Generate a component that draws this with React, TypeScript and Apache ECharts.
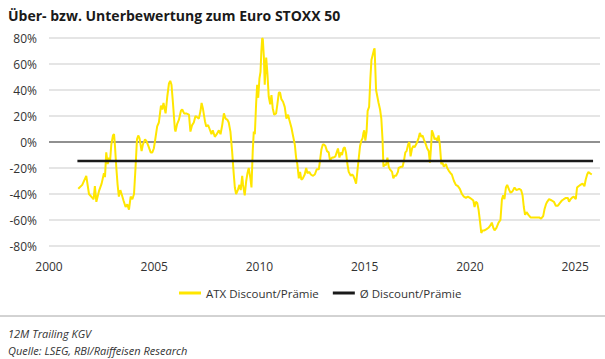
import React, { useEffect, useRef } from "react";
import * as echarts from "echarts";

const titleText = "Über- bzw. Unterbewertung zum Euro STOXX 50";
const footnote1 = "12M Trailing KGV";
const footnote2 = "Quelle: LSEG, RBI/Raiffeisen Research";
const seriesNames = ["ATX Discount/Prämie", "Ø Discount/Prämie"];

const years = [
  2001.39, 2001.58, 2001.77, 2001.9, 2002.06, 2002.12, 2002.18, 2002.25, 2002.37, 2002.5,
  2002.61, 2002.66, 2002.72, 2002.79, 2002.85, 2002.9, 2002.96, 2003.04, 2003.09, 2003.13,
  2003.2, 2003.26, 2003.32, 2003.39, 2003.45, 2003.54, 2003.64, 2003.72, 2003.8, 2003.88,
  2003.96, 2004.04, 2004.11, 2004.18, 2004.24, 2004.3, 2004.4, 2004.46, 2004.56, 2004.62,
  2004.72, 2004.83, 2004.91, 2004.98, 2005.03, 2005.14, 2005.22, 2005.32, 2005.38, 2005.44,
  2005.54, 2005.62, 2005.7, 2005.76, 2005.82, 2005.89, 2005.98, 2006.01, 2006.09, 2006.17,
  2006.27, 2006.33, 2006.42, 2006.52, 2006.65, 2006.72, 2006.8, 2006.88, 2006.96, 2007.04,
  2007.12, 2007.2, 2007.25, 2007.31, 2007.41, 2007.47, 2007.56, 2007.63, 2007.72, 2007.78,
  2007.88, 2007.97, 2008.07, 2008.15, 2008.23, 2008.31, 2008.39, 2008.48, 2008.54, 2008.62,
  2008.7, 2008.77, 2008.83, 2008.89, 2008.97, 2009.05, 2009.11, 2009.18, 2009.22, 2009.3,
  2009.37, 2009.43, 2009.49, 2009.57, 2009.62, 2009.68, 2009.73, 2009.78, 2009.84, 2009.89,
  2009.94, 2010.0, 2010.05, 2010.09, 2010.13, 2010.16, 2010.21, 2010.25, 2010.32, 2010.38,
  2010.44, 2010.51, 2010.57, 2010.63, 2010.7, 2010.79, 2010.85, 2010.92, 2010.98, 2011.04,
  2011.12, 2011.2, 2011.28, 2011.36, 2011.42, 2011.52, 2011.58, 2011.68, 2011.74, 2011.8,
  2011.87, 2011.93, 2011.99, 2012.06, 2012.15, 2012.22, 2012.28, 2012.37, 2012.44, 2012.53,
  2012.63, 2012.72, 2012.82, 2012.88, 2012.94, 2013.01, 2013.07, 2013.13, 2013.21, 2013.29,
  2013.35, 2013.45, 2013.51, 2013.61, 2013.67, 2013.73, 2013.8, 2013.86, 2013.92, 2013.99,
  2014.05, 2014.11, 2014.18, 2014.24, 2014.34, 2014.4, 2014.46, 2014.53, 2014.59, 2014.65,
  2014.72, 2014.78, 2014.84, 2014.9, 2014.94, 2014.98, 2015.03, 2015.09, 2015.14, 2015.21,
  2015.27, 2015.32, 2015.38, 2015.44, 2015.47, 2015.54, 2015.6, 2015.66, 2015.73, 2015.79,
  2015.85, 2015.89, 2015.95, 2016.01, 2016.08, 2016.14, 2016.2, 2016.3, 2016.36, 2016.42,
  2016.49, 2016.58, 2016.61, 2016.74, 2016.8, 2016.87, 2016.93, 2016.99, 2017.06, 2017.12,
  2017.18, 2017.25, 2017.31, 2017.37, 2017.47, 2017.56, 2017.62, 2017.69, 2017.75, 2017.81,
  2017.91, 2017.97, 2018.04, 2018.1, 2018.16, 2018.19, 2018.26, 2018.32, 2018.38, 2018.45,
  2018.51, 2018.57, 2018.64, 2018.7, 2018.76, 2018.86, 2018.92, 2018.99, 2019.08, 2019.14,
  2019.24, 2019.33, 2019.43, 2019.52, 2019.62, 2019.71, 2019.81, 2019.9, 2020.0, 2020.09,
  2020.16, 2020.22, 2020.28, 2020.35, 2020.41, 2020.47, 2020.54, 2020.6, 2020.69, 2020.79,
  2020.88, 2020.98, 2021.04, 2021.11, 2021.17, 2021.26, 2021.36, 2021.45, 2021.52, 2021.58,
  2021.64, 2021.71, 2021.77, 2021.87, 2021.93, 2022.02, 2022.12, 2022.21, 2022.34, 2022.43,
  2022.5, 2022.56, 2022.62, 2022.69, 2022.78, 2022.88, 2022.97, 2023.1, 2023.19, 2023.29,
  2023.38, 2023.48, 2023.54, 2023.61, 2023.67, 2023.76, 2023.89, 2023.99, 2024.08, 2024.18,
  2024.27, 2024.37, 2024.46, 2024.56, 2024.65, 2024.71, 2024.78, 2024.84, 2024.93, 2025.03,
  2025.09, 2025.16, 2025.25, 2025.35, 2025.44, 2025.5, 2025.57, 2025.63, 2025.69, 2025.79
];

const atxValues = [
  -36, -33, -26, -40, -43, -44, -34, -46, -38, -32,
  -24, -27, -8, -17, -12, -15, -2, 5, 6, -2,
  -20, -33, -42, -37, -40, -45, -50, -48, -52, -42,
  -44, -40, -20, 2, 5, 3, -7, -2, 2, 1,
  -3, -8, -8, -5, 0, 12, 15, 28, 25, 30,
  22, 35, 45, 47, 44, 30, 10, 8, 14, 17,
  24, 25, 22, 22, 21, 8, 13, 15, 20, 19,
  18, 24, 30, 26, 16, 12, 13, 10, 6, 9,
  4, 6, 9, 6, 13, 22, 18, 17, 15, 8,
  -7, -23, -35, -40, -37, -33, -37, -26, -33, -41,
  -30, -24, -20, -28, -35, -7, 8, 6, 29, 44,
  34, 49, 54, 70, 80, 79, 65, 44, 65, 52,
  35, 29, 36, 26, 21, 22, 29, 38, 38, 33,
  31, 27, 18, 21, 17, 11, 6, -2, -12, -17,
  -28, -23, -29, -28, -25, -20, -24, -23, -25, -26,
  -25, -21, -21, -14, -6, -2, -2, -3, -7, -8,
  -14, -12, -12, -11, -8, -5, -12, -8, -10, -5,
  -4, -8, -17, -23, -26, -25, -26, -29, -32, -23,
  -12, -3, 1, 3, 7, 9, 1, 8, 24, 27,
  49, 63, 67, 71, 72, 40, 35, 30, 25, 18,
  1, -19, -17, -18, -12, -19, -21, -23, -28, -26,
  -26, -23, -20, -19, -19, -14, -8, -7, -2, 0,
  -11, -5, -3, -4, -1, 3, 7, 4, 5, 2,
  -2, -5, -7, -16, -2, 9, 6, 2, 3, 1,
  5, -2, -17, -16, -19, -17, -20, -22, -24, -25,
  -30, -33, -34, -36, -40, -42, -43, -42, -43, -44,
  -45, -50, -46, -47, -52, -60, -70, -68, -68, -67,
  -66, -64, -62, -66, -68, -66, -62, -60, -44, -41,
  -44, -35, -33, -37, -39, -38, -35, -37, -36, -37,
  -41, -50, -56, -54, -56, -58, -58, -58, -58, -58,
  -59, -57, -52, -48, -46, -44, -45, -46, -49, -49,
  -47, -45, -44, -43, -43, -46, -44, -43, -42, -44,
  -35, -34, -33, -32, -34, -29, -25, -23, -24, -25
];

const avgValue = -14.6;
const avgRange = [2001.35, 2025.85];
const yTicks = [-80, -60, -40, -20, 0, 20, 40, 60, 80];
const xTicks = [2000, 2005, 2010, 2015, 2020, 2025];

const FONT = "'Open Sans', 'Noto Sans', sans-serif";

export default function App() {
  const ref = useRef<HTMLDivElement>(null);
  useEffect(() => {
    if (!ref.current) return;
    const chart = echarts.init(ref.current, null, { renderer: "svg" });
    const atxData = years.map((y, i) => [y, atxValues[i]]);
    const avgData = avgRange.map((y) => [y, avgValue]);
    const splitColors = yTicks.map((t) => (t === 0 ? "#6b6b6b" : "#dcdcdc"));
    chart.setOption({
      animation: false,
      textStyle: { fontFamily: FONT },
      title: [
        {
          text: titleText,
          left: 3,
          top: 3,
          textStyle: { fontSize: 14, fontWeight: "bold", color: "#1a1a1a", fontFamily: FONT },
        },
        {
          text: footnote1,
          left: 3,
          top: 323,
          textStyle: { fontSize: 11, fontStyle: "italic", fontWeight: "normal", color: "#333", fontFamily: FONT },
        },
        {
          text: footnote2,
          left: 3,
          top: 340,
          textStyle: { fontSize: 11, fontStyle: "italic", fontWeight: "normal", color: "#333", fontFamily: FONT },
        },
      ],
      graphic: [
        {
          type: "line",
          shape: { x1: 0, y1: 316, x2: 605, y2: 316 },
          style: { stroke: "#a6a6a6", lineWidth: 1 },
        },
      ],
      legend: {
        left: 174,
        top: 282,
        itemWidth: 22,
        itemHeight: 3,
        itemGap: 14,
        icon: "rect",
        textStyle: { fontSize: 11.5, color: "#333", fontFamily: FONT },
        data: seriesNames,
      },
      grid: { left: 49, right: 5, top: 38, bottom: 113, containLabel: false },
      xAxis: {
        type: "value",
        min: xTicks[0],
        max: 2026.18,
        interval: 5,
        axisLine: { show: false },
        axisTick: { show: false },
        splitLine: { show: false },
        axisLabel: {
          showMaxLabel: false,
          margin: 14,
          fontSize: 12,
          color: "#333",
          formatter: (v: number) => (xTicks.includes(v) ? String(v) : ""),
        },
      },
      yAxis: {
        type: "value",
        min: yTicks[0],
        max: yTicks[yTicks.length - 1],
        interval: 20,
        axisLine: { show: false },
        axisTick: { show: false },
        splitLine: { lineStyle: { color: splitColors, width: 1.5 } },
        axisLabel: { fontSize: 12, color: "#333", margin: 12, formatter: "{value}%" },
      },
      series: [
        {
          name: seriesNames[0],
          type: "line",
          data: atxData,
          showSymbol: false,
          symbol: "none",
          lineStyle: { color: "#FFE600", width: 2 },
          itemStyle: { color: "#FFE600" },
          z: 3,
        },
        {
          name: seriesNames[1],
          type: "line",
          data: avgData,
          showSymbol: false,
          symbol: "none",
          lineStyle: { color: "#1a1a1a", width: 2.5 },
          itemStyle: { color: "#1a1a1a" },
          z: 4,
        },
      ],
    });
    return () => chart.dispose();
  }, []);
  return (
    <div
      ref={ref}
      style={{ position: "fixed", left: 0, top: 0, width: 605, height: 359, background: "#fff" }}
    />
  );
}
